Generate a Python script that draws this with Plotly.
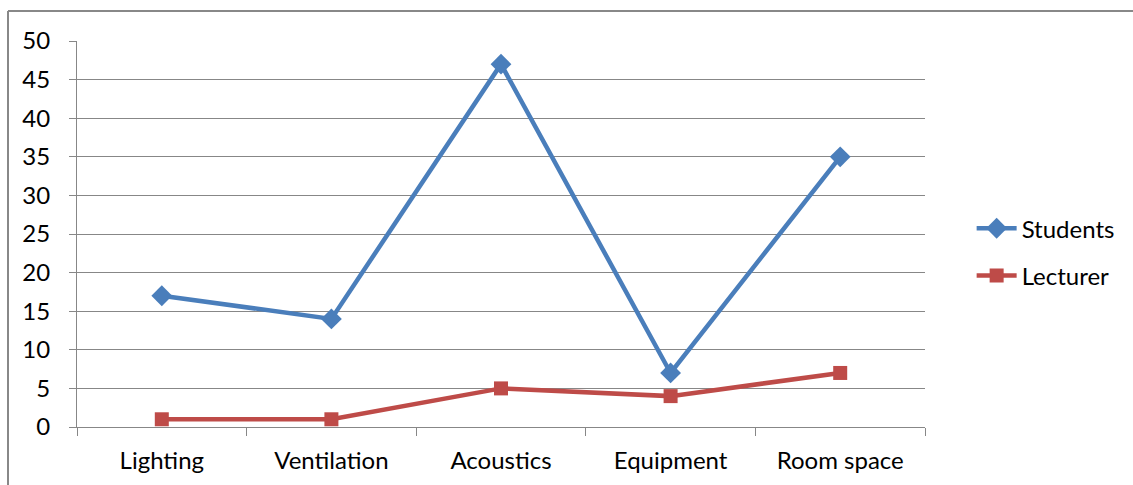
import plotly.graph_objects as go

categories = ["Lighting", "Ventilation", "Acoustics", "Equipment", "Room space"]
students = [17, 14, 47, 7, 35]
lecturer = [1, 1, 5, 4, 7]
y_ticks = [0, 5, 10, 15, 20, 25, 30, 35, 40, 45, 50]

FONT = "Lato, Calibri, Carlito, sans-serif"
GRID = "#878787"

fig = go.Figure()
fig.add_trace(go.Scatter(
    x=categories, y=students, name="Students", mode="lines+markers",
    line=dict(color="#4A7EBB", width=4.5),
    marker=dict(symbol="diamond", size=16, color="#4A7EBB"),
    legendgroup="s",
))
fig.add_trace(go.Scatter(
    x=categories, y=lecturer, name="Lecturer", mode="lines+markers",
    line=dict(color="#BE4B48", width=4.5),
    marker=dict(symbol="square", size=14, color="#BE4B48"),
    legendgroup="l",
))

fig.update_layout(
    width=1133, height=485,
    margin=dict(l=77, r=208, t=41, b=58),
    paper_bgcolor="white", plot_bgcolor="white",
    font=dict(family=FONT, size=24, color="black"),
    showlegend=True,
    legend=dict(x=1.055, y=0.453, xanchor="left", yanchor="middle",
                font=dict(size=24), tracegroupgap=13,
                itemwidth=40, bgcolor="rgba(0,0,0,0)"),
    xaxis=dict(
        type="category", range=[-0.5, 4.5],
        showgrid=False, showline=True, linecolor=GRID, linewidth=1,
        ticks="outside", tickson="boundaries", ticklen=8, tickcolor=GRID,
        tickfont=dict(size=24), zeroline=False, ticklabelstandoff=12,
    ),
    yaxis=dict(
        range=[0, 50], tickvals=y_ticks, showgrid=True, gridcolor=GRID,
        gridwidth=1, showline=True, linecolor=GRID, linewidth=1,
        ticks="outside", ticklen=7, tickcolor=GRID, zeroline=False,
        tickfont=dict(size=24), ticklabelstandoff=14,
    ),
    shapes=[
        dict(type="line", xref="paper", yref="paper",
             x0=-69/848, x1=1133/848, y0=(485-11-58)/386, y1=(485-11-58)/386,
             line=dict(color="#888888", width=2)),
        dict(type="line", xref="paper", yref="paper",
             x0=-69/848, x1=-69/848, y0=(485-11-58)/386, y1=-60/386,
             line=dict(color="#888888", width=2)),
    ],
)

fig.write_html("out.html")
